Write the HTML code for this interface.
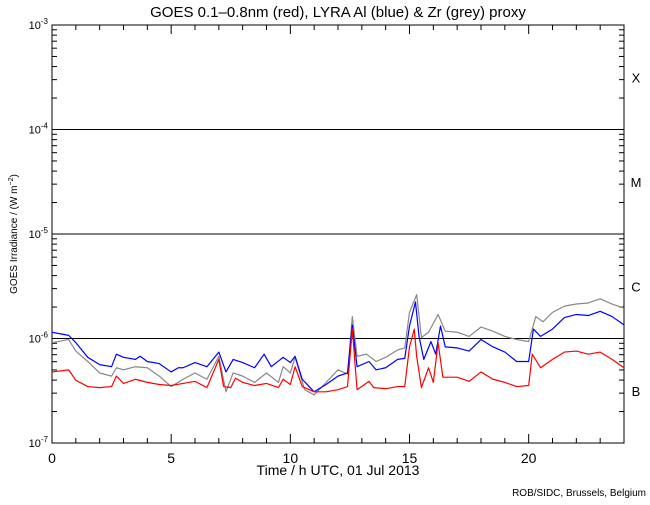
<!DOCTYPE html>
<html><head><meta charset="utf-8"><style>
body{margin:0;background:#fff}
svg{font-family:"Liberation Sans",sans-serif}
</style></head><body>
<svg id="c" width="650" height="500" viewBox="0 0 650 500">
<text x="338" y="17" text-anchor="middle" font-size="15">GOES 0.1–0.8nm (red), LYRA Al (blue) &amp; Zr (grey) proxy</text>
<rect x="52" y="25" width="572" height="418" fill="none" stroke="#000"/>
<g id="ax"></g>
<g id="series"></g>
<text x="338" y="475" text-anchor="middle" font-size="14">Time / h UTC, 01 Jul 2013</text>
<text x="646" y="496" text-anchor="end" font-size="10">ROB/SIDC, Brussels, Belgium</text>
<text transform="translate(17,234) rotate(-90)" text-anchor="middle" font-size="10">GOES Irradiance / (W m<tspan dy="-4" font-size="7">−2</tspan><tspan dy="4">)</tspan></text>
</svg>
<script>
const redHours=[0,.7,1,1.5,2,2.5,2.7,3,3.5,4,4.5,5,5.5,6,6.5,7,7.2,7.5,7.7,8,8.5,9,9.5,9.7,10,10.2,10.5,11,11.5,12,12.4,12.6,12.8,13.3,13.5,14,14.5,14.8,15,15.2,15.3,15.5,15.8,16,16.2,16.4,17,17.5,18,18.5,19,19.5,20,20.15,20.5,21,21.5,22,22.5,23,23.5,24];
const redLog=[-6.32,-6.30,-6.40,-6.46,-6.47,-6.46,-6.36,-6.43,-6.39,-6.42,-6.44,-6.45,-6.43,-6.41,-6.47,-6.20,-6.46,-6.47,-6.38,-6.42,-6.45,-6.43,-6.47,-6.39,-6.44,-6.27,-6.46,-6.51,-6.51,-6.49,-6.46,-5.91,-6.49,-6.41,-6.47,-6.48,-6.46,-6.46,-6.08,-5.91,-6.17,-6.47,-6.28,-6.42,-6.04,-6.37,-6.37,-6.41,-6.32,-6.39,-6.42,-6.46,-6.45,-6.15,-6.28,-6.20,-6.13,-6.12,-6.15,-6.13,-6.20,-6.28];
const blueHours=[0,.7,1,1.5,2,2.5,2.7,3,3.5,3.7,4,4.5,5,5.3,5.5,6,6.5,7,7.3,7.6,8,8.5,8.9,9.2,9.7,10,10.2,10.5,11,11.5,12,12.4,12.6,12.8,13.3,13.6,14,14.5,14.8,15,15.25,15.4,15.6,15.9,16.1,16.3,16.5,17,17.5,18,18.5,19,19.5,20,20.2,20.5,21,21.5,22,22.5,23,23.5,24];
const blueLog=[-5.94,-5.97,-6.04,-6.18,-6.25,-6.27,-6.15,-6.18,-6.20,-6.17,-6.22,-6.24,-6.32,-6.28,-6.28,-6.23,-6.27,-6.13,-6.32,-6.20,-6.23,-6.28,-6.15,-6.27,-6.18,-6.23,-6.17,-6.39,-6.51,-6.44,-6.36,-6.33,-5.87,-6.27,-6.22,-6.30,-6.28,-6.20,-6.19,-5.88,-5.65,-5.98,-6.20,-6.03,-6.15,-5.88,-6.08,-6.09,-6.12,-6.01,-6.08,-6.13,-6.22,-6.22,-5.91,-5.98,-5.91,-5.80,-5.77,-5.78,-5.74,-5.79,-5.87];
const greyHours=[0,.7,1,1.5,2,2.5,2.7,3,3.5,4,4.5,5,5.5,6,6.5,7,7.3,7.6,8,8.5,9,9.5,9.7,10,10.2,10.6,11,11.5,12,12.4,12.6,12.8,13.2,13.6,14,14.5,14.8,15,15.3,15.5,15.8,16.2,16.5,17,17.5,18,18.5,19,19.5,20,20.3,20.6,21,21.5,22,22.5,23,23.5,24];
const greyLog=[-6.04,-6.01,-6.12,-6.22,-6.33,-6.36,-6.28,-6.30,-6.27,-6.28,-6.36,-6.46,-6.39,-6.33,-6.39,-6.17,-6.51,-6.33,-6.36,-6.42,-6.33,-6.42,-6.27,-6.33,-6.18,-6.49,-6.54,-6.42,-6.30,-6.34,-5.79,-6.17,-6.15,-6.22,-6.18,-6.11,-6.09,-5.75,-5.58,-5.99,-5.94,-5.77,-5.93,-5.94,-5.98,-5.89,-5.93,-5.98,-6.01,-6.03,-5.79,-5.84,-5.75,-5.69,-5.67,-5.66,-5.62,-5.67,-5.71];
const xTicks=[0,5,10,15,20];
const yDecades=[-7,-6,-5,-4,-3];
const flareClasses=["B","C","M","X"];

const NS="http://www.w3.org/2000/svg";
const X0=52,X1=624,Y0=443,Y1=25;
const xs=h=>X0+(h/24)*(X1-X0);
const ys=l=>Y0-(l+7)/4*(Y0-Y1);
const ax=document.getElementById('ax'),sg=document.getElementById('series');
function mk(tag,attrs,parent){const e=document.createElementNS(NS,tag);for(const k in attrs)e.setAttribute(k,attrs[k]);parent.appendChild(e);return e;}
for(let h=0;h<=24;h++){
  const major=h%5===0,x=xs(h),len=major?9:5;
  const t=mk('line',{x1:x,x2:x,y1:Y0,y2:Y0-len,stroke:'#000'},ax);
  
  
  const t2=mk('line',{x1:x,x2:x,y1:Y1,y2:Y1+len,stroke:'#000'},ax);
  
  
}
xTicks.forEach(v=>{
  const t=mk('text',{x:xs(v),y:463,'text-anchor':'middle','font-size':14},ax);t.textContent=v;
  
  
});
yDecades.forEach((d,i)=>{
  const y=ys(d);
  const lb=mk('text',{x:48,y:y+4,'text-anchor':'end','font-size':11},ax);
  lb.innerHTML='10<tspan dy="-5" font-size="8">'+d+'</tspan>';
  
  
  if(d>-7&&d<-3){
    const g=mk('line',{x1:X0,x2:X1,y1:y,y2:y,stroke:'#000'},ax);
    
    
  }
  if(i<4){
    for(let m=2;m<=9;m++){
      const yy=ys(d+Math.log10(m));
      const a=mk('line',{x1:X0,x2:X0+5,y1:yy,y2:yy,stroke:'#000'},ax);
      
      
      const b=mk('line',{x1:X1-5,x2:X1,y1:yy,y2:yy,stroke:'#000'},ax);
      
      
    }
    const c=mk('text',{x:636,y:ys(d+0.5)+5,'text-anchor':'middle','font-size':13},ax);c.textContent=flareClasses[i];
    
    
  }
  const a=mk('line',{x1:X0,x2:X0+10,y1:y,y2:y,stroke:'#000'},ax);
  
  
});
function series(hours,vals,color,name){
  const p=mk('polyline',{points:hours.map((h,i)=>xs(h)+','+ys(vals[i])).join(' '),fill:'none',stroke:color,'stroke-width':1.2,'stroke-linejoin':'round'},sg);
  
  
}
series(greyHours,greyLog,'#888','zr-proxy-line');
series(blueHours,blueLog,'#0000ff','al-proxy-line');
series(redHours,redLog,'#ff0000','goes-line');
</script>
</body></html>
